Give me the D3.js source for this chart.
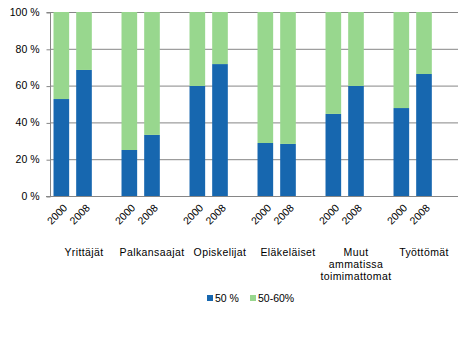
<!DOCTYPE html>
<html><head><meta charset="utf-8">
<script src="https://cdn.jsdelivr.net/npm/d3@7"></script>
<style>body{margin:0;background:#fff}svg{display:block;font-family:Arial,"Liberation Sans",sans-serif}</style>
</head><body>
<svg id="c" width="463" height="338"></svg>
<script>
const categories = ["Yrittäjät","Palkansaajat","Opiskelijat","Eläkeläiset","Muut ammatissa toimimattomat","Työttömät"];
const years = ["2000","2008"];
const series = ["50 %","50-60%"];
const share50 = [[52.7,68.5],[25.0,33.2],[59.8,71.7],[28.8,28.3],[44.6,59.8],[47.8,66.3]];
const yTicks = [0,20,40,60,80,100];
const colors = ["#1767AF","#98D78E"];

const svg = d3.select("#c");
const L=50, R=458, T=12, B=196;
const slots = [];
categories.forEach((c,i)=>{ years.forEach(y=>slots.push(c+"|"+y)); slots.push(c+"|blank"); });
const x = d3.scaleBand().domain(slots).range([L,R]).paddingInner(0.31).paddingOuter(0.155);
const y = d3.scaleLinear().domain([0,100]).range([B,T]);

// gridlines
svg.append("g").selectAll("line").data(yTicks.filter(d=>d>0)).join("line")
  .attr("x1",L).attr("x2",R).attr("y1",d=>y(d)+0.5).attr("y2",d=>y(d)+0.5)
  .attr("stroke","#868686").attr("stroke-width",1);

// y axis
const ya = svg.append("g").attr("transform",`translate(${L+0.5},0)`)
  .call(d3.axisLeft(y).tickValues(yTicks).tickSize(4).tickFormat(d=>d+" %"));
ya.select(".domain").attr("stroke","#868686").attr("d",`M-4,${T+0.5}H0V${B+0.5}H-4`);
ya.selectAll(".tick line").attr("stroke","#868686").attr("transform","translate(0,0.5)");
ya.selectAll(".tick text").attr("font-size",10.5).attr("fill","#000").attr("x",-11).attr("font-family","Arial,'Liberation Sans',sans-serif");

// data rows
const rows = [];
categories.forEach((c,i)=>years.forEach((yr,j)=>{
  const v = share50[i][j];
  rows.push({key:c+"|"+yr, yr, vals:[v,100-v]});
}));
const stack = rows.map(r=>{ let acc=0; return r.vals.map((v,k)=>{ const s={key:r.key,k,y0:acc,y1:acc+v}; acc+=v; return s; }); }).flat();
svg.append("g").selectAll("rect").data(stack).join("rect")
  .attr("x",d=>x(d.key)).attr("width",x.bandwidth())
  .attr("y",d=>y(d.y1)).attr("height",d=>y(d.y0)-y(d.y1))
  .attr("fill",d=>colors[d.k]);

// x axis line
svg.append("line").attr("x1",L-4).attr("x2",R).attr("y1",B+0.5).attr("y2",B+0.5).attr("stroke","#868686");

// year labels
svg.append("g").selectAll("text").data(rows).join("text")
  .attr("transform",d=>`translate(${x(d.key)+x.bandwidth()/2+4},${B+10}) rotate(-45)`)
  .attr("text-anchor","end").attr("font-size",10.5).attr("dy","0.35em").text(d=>d.yr);

// category labels
const step = x.step();
const catLines = categories.map(c=> c==="Muut ammatissa toimimattomat" ? ["Muut","ammatissa","toimimattomat"] : [c]);
const cg = svg.append("g");
categories.forEach((c,i)=>{
  const start = x(c+"|2000") - x.paddingInner()*step/2;
  const cx = start + 1.5*step;
  const t = cg.append("text").attr("text-anchor","middle").attr("font-size",10.5).attr("letter-spacing","0.4px");
  catLines[i].forEach((ln,k)=>t.append("tspan").attr("x",cx).attr("y",256+k*12).text(ln));
});

// legend
const lg = svg.append("g");
const legX = [207,250];
series.forEach((s,i)=>{
  lg.append("rect").attr("x",legX[i]).attr("y",295).attr("width",6).attr("height",6).attr("fill",colors[i]);
  lg.append("text").attr("x",legX[i]+8).attr("y",302).attr("font-size",10.5).text(s);
});
</script>
</body></html>
